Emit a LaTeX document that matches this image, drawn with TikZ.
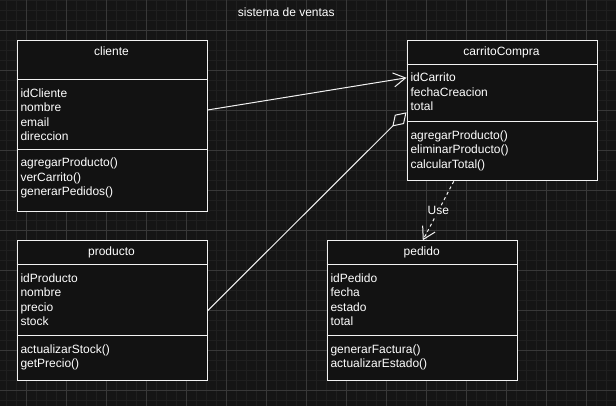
\documentclass[tikz,border=0pt]{standalone}
\usepackage{fontspec}
\setmainfont{Liberation Sans}
\usetikzlibrary{arrows.meta}
\definecolor{bgc}{HTML}{151515}
\definecolor{minorc}{HTML}{1F1F1F}
\definecolor{majorc}{HTML}{383838}
\definecolor{boxc}{HTML}{121212}
\definecolor{linec}{HTML}{F2F2F2}
\tikzset{
  classbox/.style={draw=linec, fill=boxc, line width=1pt, inner sep=0pt, anchor=north west, minimum width=190pt},
  txt/.style={text=white, inner sep=0pt, anchor=base west, font=\fontsize{12}{14.4}\selectfont},
  ttl/.style={text=white, inner sep=0pt, anchor=base, font=\fontsize{12}{14.4}\selectfont},
  sep/.style={draw=linec, line width=1pt},
  conn/.style={draw=linec, line width=1pt},
  openarrow/.style={-{Straight Barb[length=12pt, width=14pt, line width=1pt]}},
  dashline/.style={dash pattern=on 3pt off 3pt},
  minorline/.style={draw=minorc, line width=0.8pt},
  majorline/.style={draw=majorc, line width=0.8pt}
}
\begin{document}
\begin{tikzpicture}[x=1pt, y=-1pt]
\fill[bgc] (0,0) rectangle (616,406);
\useasboundingbox (0,0) rectangle (616,406);
% grid
\foreach \k in {0,...,61} \draw[minorline] ({6.3+10*\k},0) -- ({6.3+10*\k},406);
\foreach \k in {0,...,40} \draw[minorline] (0,{0.3+10*\k}) -- (616,{0.3+10*\k});
\foreach \k in {0,...,14} \draw[majorline] ({26.3+40*\k},0) -- ({26.3+40*\k},406);
\foreach \k in {0,...,9} \draw[majorline] (0,{30.3+40*\k}) -- (616,{30.3+40*\k});

% title
\node[ttl] (title) at (286.3,16.5) {sistema de ventas};

% cliente
\node[classbox, minimum height=170.4pt] (cliente) at (16.5,40.3) {};
\draw[sep] (cliente.west |- 0,79.3) -- (cliente.east |- 0,79.3);
\draw[sep] (cliente.west |- 0,149.3) -- (cliente.east |- 0,149.3);
\node[ttl] (clienteT) at (111.5,55.5) {cliente};
\foreach \t [count=\i] in {{idCliente},{nombre},{email},{direccion}}
  \node[txt] (clienteA\i) at (20.3,{97.3+14.4*(\i-1)}) {\t};
\foreach \t [count=\i] in {{agregarProducto()},{verCarrito()},{generarPedidos()}}
  \node[txt] (clienteM\i) at (20.3,{167+14.4*(\i-1)}) {\t};

% carritoCompra
\node[classbox, minimum height=140pt] (carrito) at (406.5,40.3) {};
\draw[sep] (carrito.west |- 0,64.3) -- (carrito.east |- 0,64.3);
\draw[sep] (carrito.west |- 0,121.7) -- (carrito.east |- 0,121.7);
\node[ttl] (carritoT) at (501.5,55.5) {carritoCompra};
\foreach \t [count=\i] in {{idCarrito},{fechaCreacion},{total}}
  \node[txt] (carritoA\i) at (410.3,{81.8+14.4*(\i-1)}) {\t};
\foreach \t [count=\i] in {{agregarProducto()},{eliminarProducto()},{calcularTotal()}}
  \node[txt] (carritoM\i) at (410.3,{139.3+14.4*(\i-1)}) {\t};

% producto
\node[classbox, minimum height=140pt] (producto) at (16.5,240.3) {};
\draw[sep] (producto.west |- 0,264.3) -- (producto.east |- 0,264.3);
\draw[sep] (producto.west |- 0,335.3) -- (producto.east |- 0,335.3);
\node[ttl] (productoT) at (111.5,255.5) {producto};
\foreach \t [count=\i] in {{idProducto},{nombre},{precio},{stock}}
  \node[txt] (productoA\i) at (20.3,{282.3+14.4*(\i-1)}) {\t};
\foreach \t [count=\i] in {{actualizarStock()},{getPrecio()}}
  \node[txt] (productoM\i) at (20.3,{353.3+14.4*(\i-1)}) {\t};

% pedido
\node[classbox, minimum height=140pt] (pedido) at (326.7,240.3) {};
\draw[sep] (pedido.west |- 0,264.3) -- (pedido.east |- 0,264.3);
\draw[sep] (pedido.west |- 0,335.3) -- (pedido.east |- 0,335.3);
\node[ttl] (pedidoT) at (421.7,255.5) {pedido};
\foreach \t [count=\i] in {{idPedido},{fecha},{estado},{total}}
  \node[txt] (pedidoA\i) at (330.3,{282.3+14.4*(\i-1)}) {\t};
\foreach \t [count=\i] in {{generarFactura()},{actualizarEstado()}}
  \node[txt] (pedidoM\i) at (330.3,{353.3+14.4*(\i-1)}) {\t};

% connectors
\draw[conn, openarrow] ([yshift=16pt]cliente.east) -- ([yshift=33pt]carrito.west);
\draw[conn, -{Diamond[open, length=20pt, width=13pt, line width=1pt]}] (producto.east) -- ([yshift=-1.5pt]carrito.west);
\draw[conn, dashline, openarrow] ([xshift=-48.2pt]carrito.south) -- node[midway, fill=bgc, text=white, inner sep=1pt, font=\fontsize{12}{14.4}\selectfont] (uselbl) {Use} ([xshift=0.6pt]pedido.north);
\end{tikzpicture}
\end{document}
